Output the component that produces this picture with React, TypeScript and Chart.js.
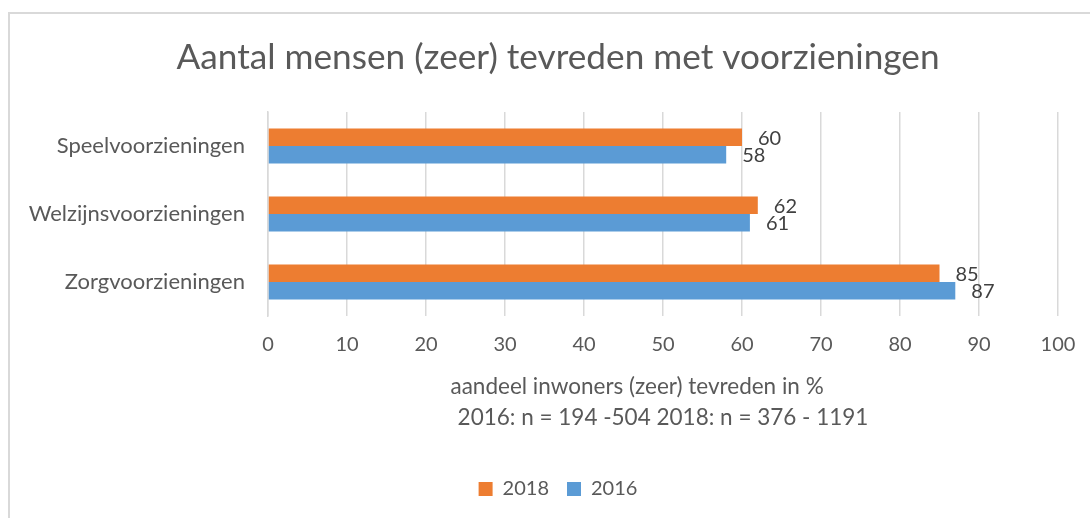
import React, { useEffect, useRef } from "react";
import { Chart, registerables } from "chart.js";

Chart.register(...registerables);

const categories = ["Speelvoorzieningen", "Welzijnsvoorzieningen", "Zorgvoorzieningen"];
const series2018 = [60, 62, 85];
const series2016 = [58, 61, 87];
const seriesLabels = ["2018", "2016"];
const xMin = 0;
const xMax = 100;
const xStep = 10;
const chartTitle = "Aantal mensen (zeer) tevreden met voorzieningen";
const axisTitle = [
  "aandeel inwoners (zeer) tevreden in %         ",
  "2016: n = 194 -504 2018: n = 376 - 1191",
];

const FONT = "Lato, 'Open Sans', sans-serif";
const TEXT = "#595959";

const dataLabels = {
  id: "dataLabels",
  afterDatasetsDraw(chart: any) {
    const ctx = chart.ctx;
    ctx.save();
    ctx.font = `20px ${FONT}`;
    ctx.fillStyle = "#404040";
    ctx.textAlign = "left";
    ctx.textBaseline = "middle";
    chart.data.datasets.forEach((ds: any, di: number) => {
      const meta = chart.getDatasetMeta(di);
      meta.data.forEach((bar: any, i: number) => {
        ctx.fillText(String(ds.data[i]), bar.x + 16, bar.y + 1);
      });
    });
    ctx.restore();
  },
};

export default function App() {
  const ref = useRef<HTMLCanvasElement>(null);
  useEffect(() => {
    if (!ref.current) return;
    const chart = new Chart(ref.current, {
      type: "bar",
      data: {
        labels: categories,
        datasets: [
          { label: seriesLabels[0], data: series2018, backgroundColor: "#ED7D31" },
          { label: seriesLabels[1], data: series2016, backgroundColor: "#5B9BD5" },
        ],
      },
      options: {
        indexAxis: "y",
        responsive: false,
        animation: false,
        devicePixelRatio: 1,
        datasets: { bar: { categoryPercentage: 0.515, barPercentage: 1 } },
        layout: { padding: { left: 0, right: 0, top: 0, bottom: 25 } },
        plugins: {
          title: {
            display: true,
            text: chartTitle,
            color: TEXT,
            font: { family: FONT, size: 35.2, weight: "normal", lineHeight: 1.2 },
            padding: { top: 22.9, bottom: 32.9 },
          },
          legend: {
            position: "bottom",
            labels: {
              color: TEXT,
              font: { family: FONT, size: 20 },
              boxWidth: 14,
              boxHeight: 14,
              padding: 18,
            },
          },
          tooltip: { enabled: false },
        },
        scales: {
          x: {
            min: xMin,
            max: xMax,
            ticks: { stepSize: xStep, color: TEXT, font: { family: FONT, size: 20 }, padding: 17 },
            grid: { color: "#d9d9d9", lineWidth: 1.5, drawTicks: false },
            border: { display: false },
            title: {
              display: true,
              text: axisTitle,
              color: TEXT,
              font: { family: FONT, size: 22.5, lineHeight: 1.38 },
              padding: { top: 0, bottom: 27.5 },
            },
            afterFit: (scale: any) => {
              scale.height = 145;
              scale.paddingRight = 48;
            },
          },
          y: {
            ticks: { color: TEXT, font: { family: FONT, size: 22 }, padding: 23 },
            grid: { display: false, drawTicks: false },
            border: { display: true, color: "#d9d9d9", width: 1.5 },
            afterFit: (scale: any) => {
              scale.width = 258;
            },
          },
        },
      },
      plugins: [dataLabels],
    });
    return () => chart.destroy();
  }, []);

  return (
    <div
      style={{
        position: "fixed",
        left: 8,
        top: 12,
        width: 1082,
        height: 506,
        overflow: "hidden",
        borderLeft: "2px solid #d9d9d9",
        borderTop: "2px solid #d9d9d9",
        boxSizing: "border-box",
        background: "#fff",
      }}
    >
      <canvas ref={ref} width={1096} height={520} style={{ display: "block" }} />
    </div>
  );
}
